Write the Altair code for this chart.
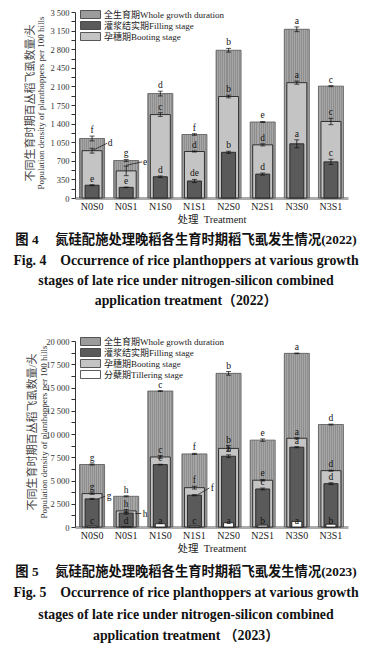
import altair as alt
import pandas as pd

SERIF = "Liberation Serif, Noto Sans CJK SC"

treatments = ["N0S0", "N0S1", "N1S0", "N1S1", "N2S0", "N2S1", "N3S0", "N3S1"]

WHOLE = "全生育期Whole growth duration"
FILL = "灌浆结实期Filling stage"
BOOT = "孕穗期Booting stage"
TILL = "分蘖期Tillering stage"

# ---------------- 2022 ----------------
whole_2022 = [1120, 705, 1965, 1195, 2780, 1430, 3175, 2105]
whole_2022_err = [45, 20, 45, 15, 35, 10, 45, 10]
whole_2022_let = ["f", "g", "d", "f", "b", "e", "a", "c"]
boot_2022 = [890, 510, 1570, 875, 1910, 1000, 2170, 1440]
boot_2022_err = [45, 90, 35, 10, 25, 20, 30, 60]
boot_2022_let = ["", "", "c", "d", "b", "d", "a", "c"]
fill_2022 = [240, 200, 400, 320, 860, 450, 1020, 680]
fill_2022_err = [10, 5, 15, 30, 20, 20, 75, 50]
fill_2022_let = ["e", "e", "d", "de", "b", "d", "a", "c"]
ptr_2022_treat = ["N0S0", "N0S1"]
ptr_2022_from = [890, 615]
ptr_2022_to = [1030, 680]
ptr_2022_let = ["d", "e"]

# ---------------- 2023 ----------------
whole_2023 = [6720, 3300, 14620, 7860, 16520, 9340, 18670, 11020]
whole_2023_err = [60, 50, 40, 60, 200, 130, 30, 50]
whole_2023_let = ["g", "h", "c", "f", "b", "e", "a", "d"]
boot_2023 = [3590, 1730, 7530, 4230, 8450, 5030, 9540, 6060]
boot_2023_err = [80, 150, 150, 150, 300, 80, 60, 60]
boot_2023_let = ["g", "h", "c", "f", "b", "e", "a", "d"]
fill_2023 = [3020, 1500, 6710, 3420, 7610, 4090, 8580, 4660]
fill_2023_err = [60, 120, 40, 60, 150, 100, 60, 100]
fill_2023_let = ["", "", "c", "", "b", "c", "a", "d"]
till_2023 = [100, 50, 350, 100, 450, 200, 600, 300]
till_2023_let = ["c", "d", "a", "c", "a", "b", "a", "b"]
ptr_2023_treat = ["N0S0", "N0S1", "N1S1"]
ptr_2023_from = [3020, 1450, 3450]
ptr_2023_to = [3300, 1450, 4200]
ptr_2023_let = ["g", "h", "f"]

ytitle_cn = "不同生育时期百丛稻飞虱数量/头"
ytitle_en = "Population density of planthoppers per 100 hills"
xtitle = "处理\u00a0\u00a0Treatment"

cap4_cn = "图\u00a04\u3000\u00a0氮硅配施处理晚稻各生育时期稻飞虱发生情况(2022)"
cap4_en = ["Fig.\u00a04\u00a0\u00a0\u00a0\u00a0Occurrence of rice planthoppers at various growth",
           "stages of late rice under nitrogen-silicon combined",
           "application treatment（2022）"]
cap5_cn = "图\u00a05\u3000\u00a0氮硅配施处理晚稻各生育时期稻飞虱发生情况(2023)"
cap5_en = ["Fig.\u00a05\u00a0\u00a0\u00a0\u00a0Occurrence of rice planthoppers at various growth",
           "stages of late rice under nitrogen-silicon combined",
           "application treatment\u00a0（2023）"]

COLORS = {WHOLE: "#9c9c9c", FILL: "#5a5a5a", BOOT: "#c4c4c4", TILL: "#ffffff"}
PW, PH = 273, 186


def stripes():
    stops = []
    n = 12
    for i in range(n):
        a, m, b = i / n, (i + 0.5) / n, (i + 1) / n
        stops += [alt.GradientStop(offset=a, color="#8e8e8e"),
                  alt.GradientStop(offset=m, color="#8e8e8e"),
                  alt.GradientStop(offset=m, color="#a6a6a6"),
                  alt.GradientStop(offset=b, color="#a6a6a6")]
    return alt.LinearGradient(gradient="linear", stops=stops, x1=0, x2=1, y1=0, y2=0)


def stage_df(values, errs, letters, stage):
    return pd.DataFrame({
        "treat": treatments, "stage": stage, "value": values,
        "lo": [v - e for v, e in zip(values, errs)],
        "hi": [v + e for v, e in zip(values, errs)],
        "err": errs, "letter": letters, "base": 0,
    })


def make_panel(stages, ptrs, ptr_offsets, ymax, tick_step, label_step, domain,
               title_x, legend_y):
    yscale = alt.Scale(domain=[0, ymax], nice=False)
    yaxis = alt.Axis(
        title=None, values=list(range(0, ymax + 1, tick_step)),
        labelExpr=f"datum.value % {label_step} == 0 ? replace(format(datum.value, ','), ',', ' ') : ''",
        labelOverlap=False, labelFont=SERIF, labelFontSize=8.5, labelColor="#333",
        tickSize=4, tickColor="#333", domainColor="#333", domainWidth=1, labelPadding=2, grid=False)
    xaxis = alt.Axis(
        title=xtitle, labelAngle=0, ticks=False, domainColor="#ababab", domainWidth=3,
        labelFont=SERIF, labelFontSize=10, labelColor="#222", labelPadding=3,
        titleFont=SERIF, titleFontSize=10.5, titleFontWeight="normal", titleColor="#222",
        titlePadding=3, grid=False)
    X = alt.X("treat:N", sort=treatments, scale=alt.Scale(paddingInner=0, paddingOuter=0), axis=xaxis)

    def Y(f):
        return alt.Y(f"{f}:Q", scale=yscale, axis=yaxis)

    color = alt.Color("stage:N", scale=alt.Scale(domain=domain, range=[COLORS[d] for d in domain]),
                      legend=alt.Legend(
                          title=None, orient="none", legendX=11, legendY=legend_y,
                          symbolType="M-2.5,-1H2.5V1H-2.5Z", symbolSize=64,
                          symbolStrokeColor="#333", symbolStrokeWidth=0.8, symbolOpacity=1,
                          labelFont=SERIF, labelFontSize=9, labelColor="#222", labelOffset=9,
                          rowPadding=-3, padding=0, labelLimit=300))

    layers = []
    wdf = stages[WHOLE]
    layers.append(alt.Chart(wdf).mark_bar(size=25, fill=stripes(), stroke="#555", strokeWidth=0.8)
                  .encode(x=X, y=Y("value")))
    sizes = {BOOT: 20, FILL: 14, TILL: 10}
    for st in [BOOT, FILL, TILL]:
        if st in stages:
            layers.append(alt.Chart(stages[st]).mark_bar(size=sizes[st], stroke="#222", strokeWidth=0.9)
                          .encode(x=X, y=Y("value"), color=color))

    allst = pd.concat([stages[k] for k in stages], ignore_index=True)
    errdf = allst[allst["err"] > 0]
    layers.append(alt.Chart(errdf).mark_rule(color="#111", strokeWidth=0.8)
                  .encode(x=X, y=Y("lo"), y2="hi:Q"))
    for f in ["lo", "hi"]:
        layers.append(alt.Chart(errdf).mark_tick(color="#111", thickness=1, size=5)
                      .encode(x=X, y=Y(f)))
    letdf = allst[(allst["letter"] != "") & (allst["stage"] != TILL)]
    layers.append(alt.Chart(letdf).mark_text(font=SERIF, fontSize=9.5, baseline="bottom", dy=-1, color="#111")
                  .encode(x=X, y=Y("hi"), text="letter:N"))
    if TILL in stages:
        tdf = stages[TILL]
        layers.append(alt.Chart(tdf).mark_text(font=SERIF, fontSize=9.5, baseline="bottom", dy=-1, color="#111")
                      .encode(x=X, y=Y("base"), text="letter:N"))

    ptreat, pfrom, pto, plet = ptrs
    for t, y0, y1, lt, (dx0, dx1, dxl) in zip(ptreat, pfrom, pto, plet, ptr_offsets):
        pdf = pd.DataFrame({"treat": [t], "y0": [y0], "y1": [y1], "letter": [lt]})
        layers.append(alt.Chart(pdf).mark_rule(xOffset=dx0, x2Offset=dx1, color="#222", strokeWidth=0.8)
                      .encode(x=X, x2="treat:N", y=Y("y0"), y2="y1:Q"))
        layers.append(alt.Chart(pdf).mark_text(font=SERIF, fontSize=9.5, dx=dxl, baseline="middle", color="#111")
                      .encode(x=X, y=Y("y1"), text="letter:N"))

    cx, ex = title_x
    layers.append(alt.Chart(pd.DataFrame({"t": [ytitle_cn]})).mark_text(
        angle=270, font=SERIF, fontSize=11, color="#444", baseline="middle")
        .encode(text="t:N", x=alt.value(cx), y=alt.value(PH / 2 - 2)))
    layers.append(alt.Chart(pd.DataFrame({"t": [ytitle_en]})).mark_text(
        angle=270, font=SERIF, fontSize=9, color="#333", baseline="middle")
        .encode(text="t:N", x=alt.value(ex), y=alt.value(PH / 2 - 2)))

    return alt.layer(*layers).properties(width=PW, height=PH)


def caption(cn, en, ys, h):
    xc = 111
    lay = [alt.Chart(pd.DataFrame({"t": [cn]})).mark_text(
        font=SERIF, fontSize=13.3, fontWeight="bold", color="#111", baseline="middle")
        .encode(text="t:N", x=alt.value(xc), y=alt.value(ys[0]))]
    for line, y in zip(en, ys[1:]):
        lay.append(alt.Chart(pd.DataFrame({"t": [line]})).mark_text(
            font=SERIF, fontSize=13.8, fontWeight="bold", color="#111", baseline="middle")
            .encode(text="t:N", x=alt.value(xc), y=alt.value(y)))
    return alt.layer(*lay).properties(width=PW, height=h)


stages22 = {
    WHOLE: stage_df(whole_2022, whole_2022_err, whole_2022_let, WHOLE),
    BOOT: stage_df(boot_2022, boot_2022_err, boot_2022_let, BOOT),
    FILL: stage_df(fill_2022, fill_2022_err, fill_2022_let, FILL),
}
stages23 = {
    WHOLE: stage_df(whole_2023, whole_2023_err, whole_2023_let, WHOLE),
    BOOT: stage_df(boot_2023, boot_2023_err, boot_2023_let, BOOT),
    FILL: stage_df(fill_2023, fill_2023_err, fill_2023_let, FILL),
    TILL: stage_df(till_2023, [0] * 8, till_2023_let, TILL),
}

p1 = make_panel(stages22, (ptr_2022_treat, ptr_2022_from, ptr_2022_to, ptr_2022_let),
                [(0, 15, 18), (0, 16, 19)], 3500, 175, 350, [WHOLE, FILL, BOOT],
                (-44.5, -34), -2)
p2 = make_panel(stages23, (ptr_2023_treat, ptr_2023_from, ptr_2023_to, ptr_2023_let),
                [(6, 13, 17), (9, 15, 19), (3, 15, 18)], 20000, 1250, 2500,
                [WHOLE, FILL, BOOT, TILL], (-42.5, -31.5), -4)
c1 = caption(cap4_cn, cap4_en, [14.7, 36.3, 56.3, 76.3], 112)
c2 = caption(cap5_cn, cap5_en, [18, 39, 61, 82], 85)

chart = alt.vconcat(p1, c1, p2, c2, spacing=0).resolve_scale(
    color="independent", y="independent"
).resolve_legend(color="independent").properties(
    padding={"left": 5, "top": 0, "right": 0, "bottom": 0}
).configure_view(stroke=None)

chart.save("out.html", embed_options={"renderer": "svg", "actions": False})
